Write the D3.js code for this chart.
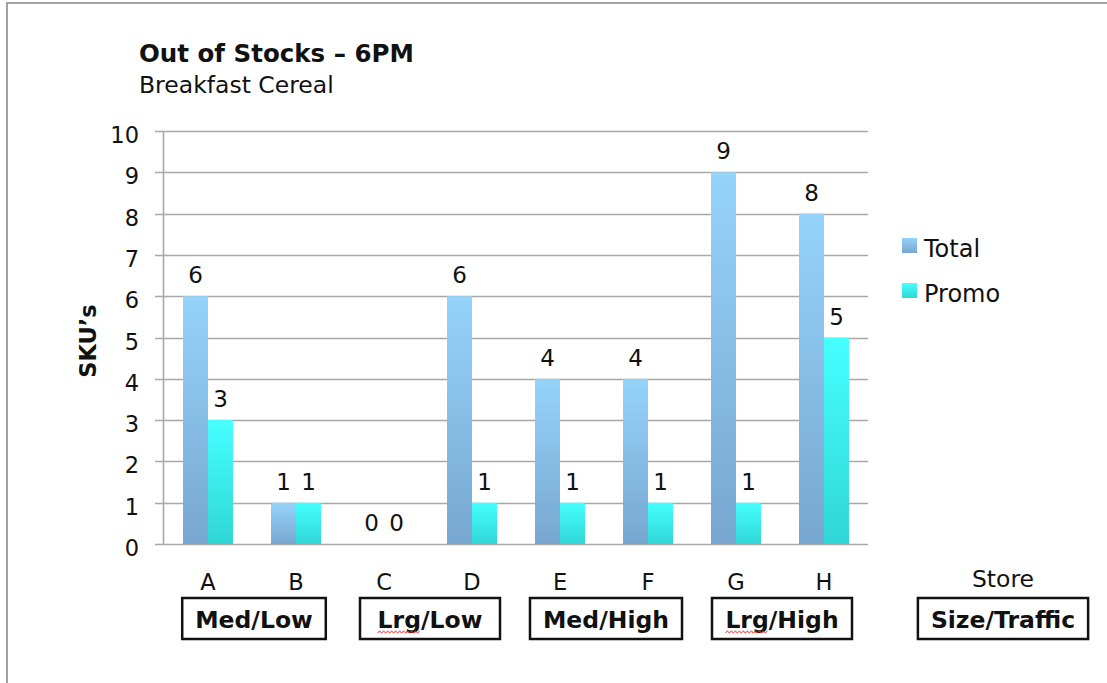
<!DOCTYPE html>
<html>
<head>
<meta charset="utf-8">
<script src="https://cdn.jsdelivr.net/npm/d3@7"></script>
<style>
  html, body { margin: 0; padding: 0; background: #fff; }
  svg { display: block; }
  text { font-family: "DejaVu Sans", Verdana, sans-serif; fill: #111; }
</style>
</head>
<body>
<svg id="chart" width="1107" height="683"></svg>
<script>
// Out-of-stock SKU counts per store at 6PM
const stores = ["A", "B", "C", "D", "E", "F", "G", "H"];
const seriesNames = ["Total", "Promo"];
const totalValues = [6, 1, 0, 6, 4, 4, 9, 8];
const promoValues = [3, 1, 0, 1, 1, 1, 1, 5];
const yTicks = [0, 1, 2, 3, 4, 5, 6, 7, 8, 9, 10];
// store size / traffic groupings (pairs of stores)
const groupLabels = ["Med/Low", "Lrg/Low", "Med/High", "Lrg/High"];
const groupStores = [["A", "B"], ["C", "D"], ["E", "F"], ["G", "H"]];

const svg = d3.select("#chart");
const W = 1107, H = 683;

// outer frame
svg.append("rect")
  .attr("x", 7).attr("y", 3).attr("width", W + 20).attr("height", H + 20)
  .attr("fill", "#fff").attr("stroke", "#a3a3a3").attr("stroke-width", 2);

const plot = { left: 164, right: 868, top: 131, bottom: 544 };

const x0 = d3.scaleBand().domain(stores)
  .range([plot.left, plot.right])
  .paddingInner(38 / 88).paddingOuter(19 / 88);
const x1 = d3.scaleBand().domain(seriesNames).range([0, x0.bandwidth()]);
const y = d3.scaleLinear().domain([0, 10]).range([plot.bottom, plot.top]);

// gradients for bars
const defs = svg.append("defs");
function grad(id, top, bottom) {
  const g = defs.append("linearGradient").attr("id", id)
    .attr("x1", 0).attr("y1", 0).attr("x2", 0).attr("y2", 1);
  g.append("stop").attr("offset", "0%").attr("stop-color", top);
  g.append("stop").attr("offset", "100%").attr("stop-color", bottom);
}
grad("gTotal", "#95d3fb", "#77a7d0");
grad("gPromo", "#46ffff", "#30d6d6");
const fills = { Total: "url(#gTotal)", Promo: "url(#gPromo)" };

// gridlines + tick marks
svg.append("g").selectAll("line").data(yTicks).join("line")
  .attr("x1", plot.left - 9).attr("x2", plot.right)
  .attr("y1", d => Math.round(y(d)) + 0.5).attr("y2", d => Math.round(y(d)) + 0.5)
  .attr("stroke", "#a8a8a8").attr("stroke-width", 1.6);

// y axis line
svg.append("line")
  .attr("x1", plot.left - 0.5).attr("x2", plot.left - 0.5)
  .attr("y1", plot.top).attr("y2", plot.bottom + 1)
  .attr("stroke", "#a8a8a8").attr("stroke-width", 1.6);

// y tick labels
svg.append("g").selectAll("text").data(yTicks).join("text")
  .attr("x", 139).attr("y", d => y(d) + 12)
  .attr("text-anchor", "end").attr("font-size", 22.5)
  .text(d => d);

// y axis title
svg.append("text")
  .attr("transform", "translate(96,341) rotate(-90)")
  .attr("text-anchor", "middle").attr("font-size", 22.5).attr("font-weight", "bold")
  .text("SKU\u2019s");

// bars
const rows = stores.map((s, i) => ({ store: s, Total: totalValues[i], Promo: promoValues[i] }));
const groups = svg.append("g").selectAll("g").data(rows).join("g")
  .attr("transform", d => `translate(${x0(d.store)},0)`);

groups.selectAll("rect")
  .data(d => seriesNames.map(k => ({ key: k, value: d[k] })))
  .join("rect")
  .attr("x", d => x1(d.key)).attr("width", x1.bandwidth())
  .attr("y", d => y(d.value)).attr("height", d => y(0) - y(d.value))
  .attr("fill", d => fills[d.key]);

// value labels
groups.selectAll("text")
  .data(d => seriesNames.map(k => ({ key: k, value: d[k] })))
  .join("text")
  .attr("x", d => x1(d.key) + x1.bandwidth() / 2)
  .attr("y", d => y(d.value) - 13)
  .attr("text-anchor", "middle").attr("font-size", 23)
  .text(d => d.value);

// store letters
svg.append("g").selectAll("text").data(stores).join("text")
  .attr("x", d => x0(d) + x0.bandwidth() / 2).attr("y", 590)
  .attr("text-anchor", "middle").attr("font-size", 22.5)
  .text(d => d);

const step = x0.step();
const storeColX = x0("H") + x0.bandwidth() / 2 + 2 * step + 3;
svg.append("text")
  .attr("x", storeColX).attr("y", 587)
  .attr("text-anchor", "middle").attr("font-size", 23.5)
  .text("Store");

// boxed group labels
function boxLabel(cx, label, minW) {
  const g = svg.append("g");
  const t = g.append("text")
    .attr("x", cx).attr("y", 628)
    .attr("text-anchor", "middle").attr("font-size", 23.5).attr("font-weight", "bold")
    .text(label);
  const w = Math.max(t.node().getComputedTextLength() + 26, minW || 0);
  g.insert("rect", "text")
    .attr("x", cx - w / 2).attr("y", 598).attr("width", w).attr("height", 41)
    .attr("fill", "#fff").attr("stroke", "#111").attr("stroke-width", 2.5);
  // spell-check squiggle under "Lrg"
  if (label.startsWith("Lrg")) {
    const node = t.node();
    const start = node.getStartPositionOfChar(0).x;
    const len = node.getSubStringLength(0, 3);
    const pts = [];
    for (let xx = start, k = 0; xx <= start + len; xx += 2, k++) {
      pts.push([xx, 632 + (k % 2 ? -1.2 : 1.2)]);
    }
    g.append("path").attr("d", d3.line()(pts))
      .attr("fill", "none").attr("stroke", "#e23a3a").attr("stroke-width", 1);
  }
}
groupStores.forEach((pair, i) => {
  const cx = (x0(pair[0]) + x0(pair[1]) + x0.bandwidth()) / 2 + 2;
  boxLabel(cx, groupLabels[i], 140);
});
boxLabel(storeColX, "Size/Traffic", 0);

// legend
const legend = svg.append("g").attr("transform", "translate(902,238)");
seriesNames.forEach((k, i) => {
  legend.append("rect")
    .attr("x", 0).attr("y", i * 45).attr("width", 15).attr("height", 15)
    .attr("fill", fills[k]);
  legend.append("text")
    .attr("x", 22).attr("y", i * 45 + 19).attr("font-size", 24)
    .text(k);
});

// titles
svg.append("text")
  .attr("x", 139).attr("y", 62)
  .attr("font-size", 24.5).attr("font-weight", "bold")
  .text("Out of Stocks \u2013 6PM");
svg.append("text")
  .attr("x", 139).attr("y", 93)
  .attr("font-size", 23.5)
  .text("Breakfast Cereal");
</script>
</body>
</html>
